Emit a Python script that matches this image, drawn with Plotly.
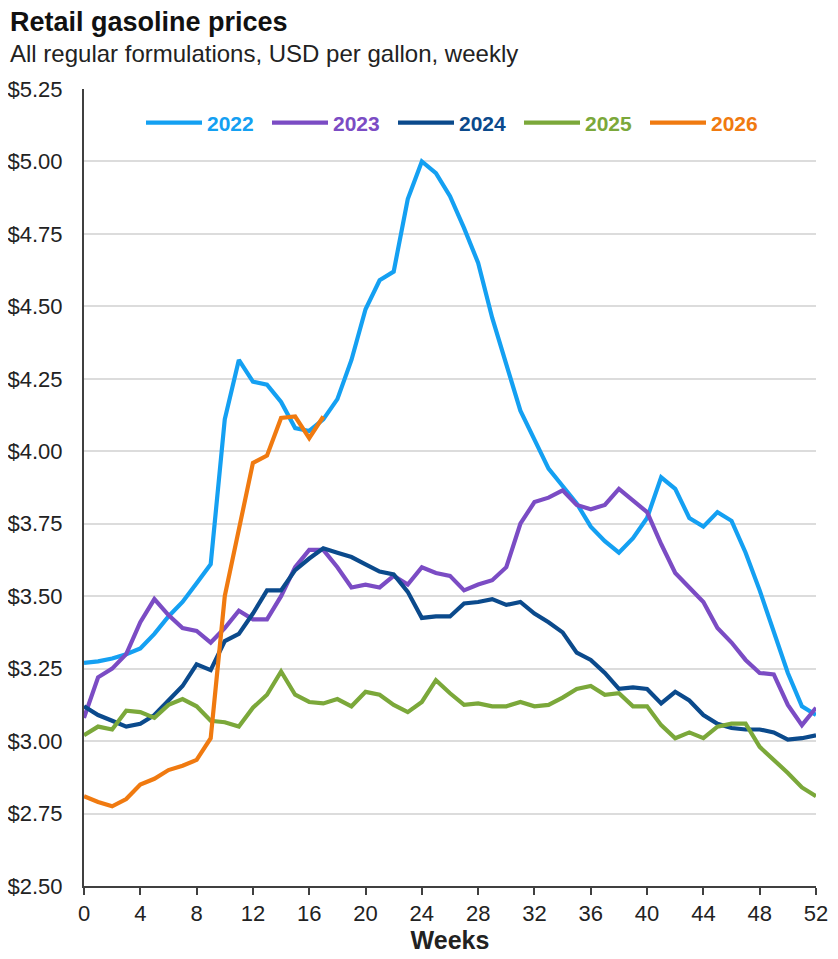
import plotly.graph_objects as go

weeks = list(range(53))

y2022 = [3.27, 3.275, 3.285, 3.30, 3.32, 3.37, 3.43, 3.48, 3.545, 3.61,
         4.11, 4.315, 4.24, 4.23, 4.17, 4.08, 4.07, 4.11, 4.18, 4.315,
         4.49, 4.59, 4.62, 4.87, 5.00, 4.96, 4.88, 4.77, 4.65, 4.46,
         4.30, 4.14, 4.04, 3.94, 3.88, 3.82, 3.74, 3.69, 3.65, 3.70,
         3.77, 3.91, 3.87, 3.77, 3.74, 3.79, 3.76, 3.65, 3.52, 3.38,
         3.235, 3.12, 3.09]
y2023 = [3.08, 3.22, 3.25, 3.30, 3.41, 3.49, 3.435, 3.39, 3.38, 3.34,
         3.39, 3.45, 3.42, 3.42, 3.50, 3.60, 3.66, 3.66, 3.60, 3.53,
         3.54, 3.53, 3.57, 3.54, 3.60, 3.58, 3.57, 3.52, 3.54, 3.555,
         3.60, 3.75, 3.825, 3.84, 3.865, 3.815, 3.80, 3.815, 3.87, 3.83,
         3.79, 3.68, 3.58, 3.53, 3.48, 3.39, 3.34, 3.28, 3.235, 3.23,
         3.125, 3.055, 3.115]
y2024 = [3.12, 3.09, 3.07, 3.05, 3.06, 3.09, 3.14, 3.19, 3.265, 3.245,
         3.345, 3.37, 3.44, 3.52, 3.52, 3.59, 3.63, 3.665, 3.65, 3.635,
         3.61, 3.585, 3.575, 3.515, 3.425, 3.43, 3.43, 3.475, 3.48, 3.49,
         3.47, 3.48, 3.44, 3.41, 3.375, 3.305, 3.28, 3.235, 3.18, 3.185,
         3.18, 3.13, 3.17, 3.14, 3.09, 3.06, 3.045, 3.04, 3.04, 3.03,
         3.005, 3.01, 3.02]
y2025 = [3.02, 3.05, 3.04, 3.105, 3.10, 3.08, 3.125, 3.145, 3.12, 3.07,
         3.065, 3.05, 3.115, 3.16, 3.24, 3.16, 3.135, 3.13, 3.145, 3.12,
         3.17, 3.16, 3.125, 3.10, 3.135, 3.21, 3.165, 3.125, 3.13, 3.12,
         3.12, 3.135, 3.12, 3.125, 3.15, 3.18, 3.19, 3.16, 3.165, 3.12,
         3.12, 3.055, 3.01, 3.03, 3.01, 3.05, 3.06, 3.06, 2.98, 2.935,
         2.89, 2.84, 2.81]
y2026 = [2.81, 2.79, 2.775, 2.80, 2.85, 2.87, 2.90, 2.915, 2.935, 3.01,
         3.50, 3.73, 3.96, 3.985, 4.115, 4.12, 4.045, 4.12]

series_names = ["2022", "2023", "2024", "2025", "2026"]
series_values = [y2022, y2023, y2024, y2025, y2026]
colors = ["#14A0F2", "#7B4CC4", "#0B4A8C", "#7BA83A", "#F07A10"]

y_ticks = [2.50, 2.75, 3.00, 3.25, 3.50, 3.75, 4.00, 4.25, 4.50, 4.75, 5.00, 5.25]
y_tick_labels = ["$%.2f" % v for v in y_ticks]
x_ticks = list(range(0, 53, 4))

fig = go.Figure()
for name, vals, col in zip(series_names, series_values, colors):
    fig.add_trace(go.Scatter(
        x=weeks[:len(vals)], y=vals, mode="lines",
        name="<b><span style='color:%s'>%s</span></b>" % (col, name),
        line=dict(color=col, width=4.2),
    ))

# page has an 8px body margin; figure coordinates are shifted accordingly
L, T, PW, PH = 76, 81, 732, 797

fig.update_layout(
    width=830, height=951,
    margin=dict(l=L, r=22, t=T, b=73),
    paper_bgcolor="white", plot_bgcolor="white",
    font=dict(family="Liberation Sans, Arial, sans-serif", color="#222222"),
    showlegend=True,
    legend=dict(
        orientation="h", x=(133 - L) / PW, y=(T + PH - 115) / PH,
        xanchor="left", yanchor="middle",
        entrywidth=55, entrywidthmode="pixels", itemwidth=56,
        font=dict(size=21), bgcolor="rgba(0,0,0,0)", traceorder="normal",
    ),
    xaxis=dict(
        range=[0, 52], tickvals=x_ticks, ticks="outside", ticklen=7, tickwidth=2,
        tickcolor="#404040", showline=True, linecolor="#404040", linewidth=2,
        showgrid=False, zeroline=False, automargin=False,
        tickfont=dict(size=22, color="#222222"),
        title=dict(text="<b>Weeks</b>", font=dict(size=25, color="#222222"), standoff=2),
    ),
    yaxis=dict(
        range=[2.5, 5.25], tickvals=y_ticks, ticktext=y_tick_labels,
        showline=True, linecolor="#404040", linewidth=2, ticks="",
        ticklabelstandoff=15, automargin=False,
        showgrid=True, gridcolor="#dcdcdc", gridwidth=1.5, zeroline=False,
        tickfont=dict(size=22, color="#222222"),
    ),
    annotations=[
        dict(text="<b>Retail gasoline prices</b>", xref="paper", yref="paper",
             x=-L / PW, y=(T + PH - 14) / PH, xanchor="left", yanchor="middle",
             showarrow=False, font=dict(size=27, color="#111111")),
        dict(text="All regular formulations, USD per gallon, weekly", xref="paper", yref="paper",
             x=-L / PW, y=(T + PH - 45) / PH, xanchor="left", yanchor="middle",
             showarrow=False, font=dict(size=24, color="#222222")),
    ],
)

fig.write_html("out.html")
